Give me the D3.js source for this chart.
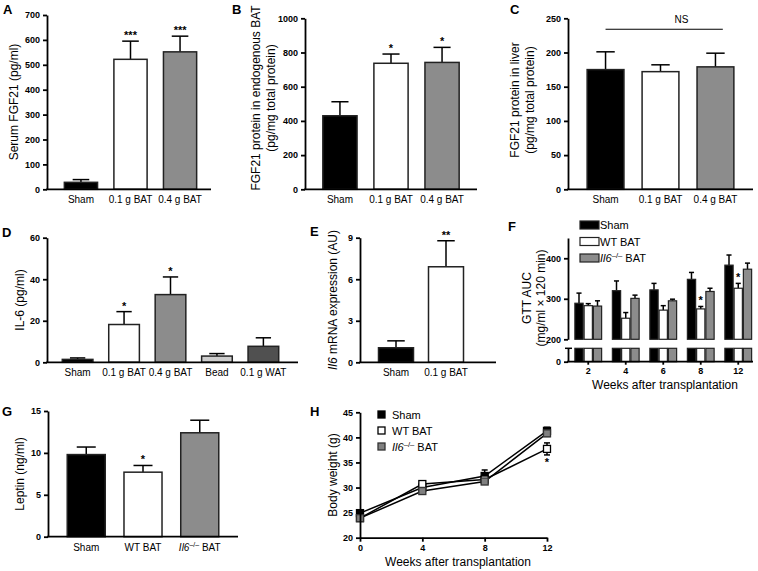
<!DOCTYPE html>
<html>
<head>
<meta charset="utf-8">
<script src="https://cdn.jsdelivr.net/npm/d3@7"></script>
<style>
body { margin: 0; background: #fff; }
svg { font-family: "Liberation Sans", Arial, sans-serif; }
.tick text { font-weight: bold; font-size: 9px; fill: #000; }
.domain, .tick line { stroke: #000; stroke-width: 1.8; }
.cat { font-size: 10px; }
.title { font-size: 12px; }
.letter { font-size: 13px; font-weight: bold; }
.star { font-size: 11px; font-weight: bold; }
.legend { font-size: 11px; }
</style>
</head>
<body>
<script>

// - data -

var aCats = ['Sham', '0.1 g BAT', '0.4 g BAT'];
var aVals = [28, 522, 552];
var aErrs = [11, 73, 63];
var aStars = ['', '***', '***'];

var bCats = ['Sham', '0.1 g BAT', '0.4 g BAT'];
var bVals = [430, 737, 742];
var bErrs = [82, 54, 88];
var bStars = ['', '*', '*'];

var cCats = ['Sham', '0.1 g BAT', '0.4 g BAT'];
var cVals = [175, 172, 179];
var cErrs = [26, 10, 20];

var dCats = ['Sham', '0.1 g BAT', '0.4 g BAT', 'Bead', '0.1 g WAT'];
var dVals = [1.4, 18.2, 32.6, 3.0, 7.7];
var dErrs = [0.7, 6.2, 8.5, 1.2, 4.1];
var dStars = ['', '*', '*', '', ''];

var eCats = ['Sham', '0.1 g BAT'];
var eVals = [1.05, 6.9];
var eErrs = [0.5, 1.88];
var eStars = ['', '**'];

var fWeeks = ['2', '4', '6', '8', '12'];
var fGroups = ['Sham', 'WT BAT', 'Il6-/- BAT'];
var fSham = [289, 320, 322, 348, 383];
var fShamErr = [25, 24, 16, 17, 25];
var fWt = [283, 252, 272, 275, 326];
var fWtErr = [5, 14, 11, 6, 12];
var fIl6 = [282, 301, 295, 318, 373];
var fIl6Err = [13, 8, 4, 8, 15];
var fWtStars = ['', '', '', '*', '*'];

var gCats = ['Sham', 'WT BAT', 'Il6-/- BAT'];
var gVals = [9.8, 7.7, 12.4];
var gErrs = [0.9, 0.8, 1.5];
var gStars = ['', '*', ''];

var hWeeks = [0, 4, 8, 12];
var hSham = [24.9, 30.0, 32.3, 41.3];
var hShamErr = [0.3, 0.4, 1.2, 0.7];
var hWt = [23.9, 30.7, 31.6, 37.7];
var hWtErr = [0.3, 0.4, 0.4, 1.2];
var hIl6 = [23.9, 29.3, 31.2, 40.8];
var hIl6Err = [0.3, 0.4, 0.3, 0.6];

var colBlack = '#000';
var colWhite = '#fff';
var colGrey = '#8c8c8c';
var colLight = '#cdcdcd';
var colDark = '#505050';

// - global -

var width = 758;
var height = 571;

var svg = d3.select('body').append('svg')
	.attr('width', width)
	.attr('height', height);

// - helpers -

// label text, with italic Il6 and superscript -/-
function writeLabel(sel, label) {
	if (label.indexOf('Il6') === 0) {
		sel.append('tspan').style('font-style', 'italic').text('Il6');
		sel.append('tspan').attr('dy', -4).style('font-size', '0.7em').text('\u2013/\u2013');
		sel.append('tspan').attr('dy', 4).text(label.replace('Il6-/-', ''));
	} else {
		sel.text(label);
	}
}

function letter(t, x, y) {
	svg.append('text').attr('class', 'letter').attr('x', x).attr('y', y).text(t);
}

function yTitle(lines, x, yc, lineGap) {
	var t = svg.append('text')
		.attr('class', 'title')
		.attr('text-anchor', 'middle')
		.attr('transform', 'translate(' + x + ',' + yc + ') rotate(-90)');
	lines.forEach(function(l, i) {
		var ts = t.append('tspan').attr('x', 0).attr('y', i * lineGap);
		if (l.indexOf('Il6') === 0) {
			ts.append('tspan').style('font-style', 'italic').text('Il6');
			ts.append('tspan').text(l.replace('Il6', ''));
		} else {
			ts.text(l);
		}
	});
}

function errBar(g, cx, y0, y1, capW) {
	g.append('line').attr('x1', cx).attr('x2', cx).attr('y1', y0).attr('y2', y1)
		.attr('stroke', '#000').attr('stroke-width', 1.5);
	g.append('line').attr('x1', cx - capW / 2).attr('x2', cx + capW / 2).attr('y1', y1).attr('y2', y1)
		.attr('stroke', '#000').attr('stroke-width', 1.5);
}

// - bar panel -

function barPanel(p) {
	var g = svg.append('g');
	var x = d3.scaleBand().domain(p.cats).range(p.xRange).padding(p.pad);
	var y = d3.scaleLinear().domain(p.yDomain).range(p.yRange);
	var bw = x.bandwidth();

	p.cats.forEach(function(c, i) {
		var cx = x(c) + bw / 2;
		errBar(g, cx, y(p.vals[i]), y(p.vals[i] + p.errs[i]), bw * 0.5);
	});

	g.selectAll('rect.bar')
		.data(p.vals).enter()
		.append('rect')
			.attr('class', 'bar')
			.attr('x', function(d, i) { return x(p.cats[i]); })
			.attr('y', function(d) { return y(d); })
			.attr('width', bw)
			.attr('height', function(d) { return y(0) - y(d); })
			.attr('fill', function(d, i) { return p.fills[i]; })
			.attr('stroke', '#222')
			.attr('stroke-width', 1.5);

	if (p.stars) {
		g.selectAll('text.star')
			.data(p.stars).enter()
			.append('text')
				.attr('class', 'star')
				.attr('text-anchor', 'middle')
				.attr('x', function(d, i) { return x(p.cats[i]) + bw / 2; })
				.attr('y', function(d, i) { return y(p.vals[i] + p.errs[i]) - 2; })
				.text(function(d) { return d; });
	}

	g.append('g')
		.attr('transform', 'translate(' + p.axisX + ',0)')
		.call(d3.axisLeft(y).tickValues(p.ticks).tickSize(4).tickSizeOuter(0).tickFormat(d3.format('d')));

	g.append('line')
		.attr('x1', p.axisX - 0.9).attr('x2', p.axisEnd)
		.attr('y1', y(0)).attr('y2', y(0))
		.attr('stroke', '#000').attr('stroke-width', 1.8);

	p.cats.forEach(function(c) {
		var t = g.append('text')
			.attr('class', 'cat')
			.attr('text-anchor', 'middle')
			.attr('x', x(c) + bw / 2)
			.attr('y', y(0) + 14);
		writeLabel(t, c);
	});

	return { x: x, y: y };
}

// - panels A to E, G -

letter('A', 3, 14);
barPanel({
	cats: aCats, vals: aVals, errs: aErrs, stars: aStars,
	fills: [colBlack, colWhite, colGrey],
	xRange: [48, 213], pad: 0.33, axisX: 47, axisEnd: 211,
	yDomain: [0, 700], yRange: [189.3, 15], ticks: d3.range(0, 701, 100)
});
yTitle(['Serum FGF21 (pg/ml)'], 18, 102, 0);

letter('B', 232, 14);
barPanel({
	cats: bCats, vals: bVals, errs: bErrs, stars: bStars,
	fills: [colBlack, colWhite, colGrey],
	xRange: [306, 476], pad: 0.33, axisX: 305, axisEnd: 477,
	yDomain: [0, 1000], yRange: [189.3, 18.3], ticks: d3.range(0, 1001, 200)
});
yTitle(['FGF21 protein in endogenous BAT', '(pg/mg total protein)'], 260, 98, 15);

letter('C', 510, 14);
var pc = barPanel({
	cats: cCats, vals: cVals, errs: cErrs,
	fills: [colBlack, colWhite, colGrey],
	xRange: [569, 752], pad: 0.33, axisX: 568, axisEnd: 753,
	yDomain: [0, 250], yRange: [189.3, 18.3], ticks: d3.range(0, 251, 50)
});
yTitle(['FGF21 protein in liver', '(pg/mg total protein)'], 519, 100, 15);

// NS bracket
svg.append('line')
	.attr('x1', pc.x(cCats[0]) + pc.x.bandwidth() / 2)
	.attr('x2', pc.x(cCats[2]) + pc.x.bandwidth() * 0.7)
	.attr('y1', pc.y(234)).attr('y2', pc.y(234))
	.attr('stroke', '#000').attr('stroke-width', 1.2);
svg.append('text')
	.attr('class', 'cat')
	.attr('text-anchor', 'middle')
	.attr('x', pc.x(cCats[1]) + pc.x.bandwidth() / 2 + 21)
	.attr('y', pc.y(234) - 6)
	.text('NS');

letter('D', 2, 237);
barPanel({
	cats: dCats, vals: dVals, errs: dErrs, stars: dStars,
	fills: [colBlack, colWhite, colGrey, colLight, colDark],
	xRange: [46.5, 294.5], pad: 0.34, axisX: 47, axisEnd: 298,
	yDomain: [0, 60], yRange: [362.3, 237.7], ticks: [0, 20, 40, 60]
});
yTitle(['IL-6 (pg/ml)'], 24, 300, 0);

letter('E', 310, 236);
barPanel({
	cats: eCats, vals: eVals, errs: eErrs, stars: eStars,
	fills: [colBlack, colWhite],
	xRange: [363.5, 478.5], pad: 0.3, axisX: 360, axisEnd: 496,
	yDomain: [0, 9], yRange: [362.3, 237.7], ticks: [0, 3, 6, 9]
});
yTitle(['Il6 mRNA expression (AU)'], 337, 300, 0);

letter('G', 2, 416);
barPanel({
	cats: gCats, vals: gVals, errs: gErrs, stars: gStars,
	fills: [colBlack, colWhite, colGrey],
	xRange: [48.5, 237.5], pad: 0.33, axisX: 48, axisEnd: 238,
	yDomain: [0, 15], yRange: [536.7, 411], ticks: [0, 5, 10, 15]
});
yTitle(['Leptin (ng/ml)'], 24, 474, 0);

// - panel F: grouped bars with broken axis -

letter('F', 508, 231);

function drawF() {
	var g = svg.append('g');
	var x0 = d3.scaleBand().domain(fWeeks).range([569.5, 757]).paddingInner(0.26).paddingOuter(0.13);
	var x1 = d3.scaleBand().domain(fGroups).range([0, x0.bandwidth()]);
	var yU = d3.scaleLinear().domain([200, 450]).range([339.3, 238]);
	var yL = d3.scaleLinear().domain([0, 30]).range([361.7, 348.3]);
	var bw = x1.bandwidth();

	var series = [
		{ key: fGroups[0], vals: fSham, errs: fShamErr, fill: colBlack },
		{ key: fGroups[1], vals: fWt, errs: fWtErr, fill: colWhite },
		{ key: fGroups[2], vals: fIl6, errs: fIl6Err, fill: colGrey }
	];

	series.forEach(function(s) {
		s.vals.forEach(function(v, i) {
			var bx = x0(fWeeks[i]) + x1(s.key);
			errBar(g, bx + bw / 2, yU(v), yU(v + s.errs[i]), bw * 0.55);
			g.append('rect')
				.attr('x', bx + 0.5).attr('y', yU(v))
				.attr('width', bw - 1).attr('height', yU(200) - yU(v))
				.attr('fill', s.fill).attr('stroke', '#222').attr('stroke-width', 1.2);
			g.append('rect')
				.attr('x', bx + 0.5).attr('y', yL(30))
				.attr('width', bw - 1).attr('height', yL(0) - yL(30))
				.attr('fill', s.fill).attr('stroke', '#222').attr('stroke-width', 1.2);
		});
	});

	fWtStars.forEach(function(st, i) {
		if (!st) return;
		g.append('text')
			.attr('class', 'star')
			.attr('text-anchor', 'middle')
			.attr('x', x0(fWeeks[i]) + x1(fGroups[1]) + bw / 2)
			.attr('y', yU(fWt[i] + fWtErr[i]) - 2)
			.text(st);
	});

	// upper axis segment
	g.append('g')
		.attr('transform', 'translate(568,0)')
		.call(d3.axisLeft(yU).tickValues([200, 300, 400]).tickSize(4).tickSizeOuter(0));

	// lower axis segment with break cap
	g.append('g')
		.attr('transform', 'translate(568,0)')
		.call(d3.axisLeft(yL).tickValues([0]).tickSize(4).tickSizeOuter(0));
	g.append('line')
		.attr('x1', 565).attr('x2', 572)
		.attr('y1', yL(30)).attr('y2', yL(30))
		.attr('stroke', '#000').attr('stroke-width', 1.5);

	// x axis
	g.append('g')
		.attr('transform', 'translate(0,' + yL(0) + ')')
		.call(d3.axisBottom(x0).tickSize(3).tickSizeOuter(0))
		.call(function(a) { a.select('.domain').attr('d', 'M567,0H753'); });

	g.append('text')
		.attr('class', 'title')
		.attr('text-anchor', 'middle')
		.attr('x', 665).attr('y', 389)
		.text('Weeks after transplantation');

	// legend
	series.forEach(function(s, i) {
		g.append('rect')
			.attr('x', 580).attr('y', 221 + i * 16.5)
			.attr('width', 19).attr('height', 8)
			.attr('fill', s.fill).attr('stroke', '#222').attr('stroke-width', 1.2);
		var t = g.append('text')
			.attr('class', 'legend')
			.attr('x', 600).attr('y', 229 + i * 16.5);
		writeLabel(t, s.key);
	});
}
drawF();
yTitle(['GTT AUC', '(mg/ml \u00d7 120 min)'], 531, 298, 14);

// - panel H: line chart -

letter('H', 310, 416);

function drawH() {
	var g = svg.append('g');
	var x = d3.scaleLinear().domain([0, 12]).range([360, 547]);
	var y = d3.scaleLinear().domain([20, 45]).range([537.7, 412.3]);

	var series = [
		{ key: 'Sham', vals: hSham, errs: hShamErr, fill: colBlack, stroke: '#000' },
		{ key: 'WT BAT', vals: hWt, errs: hWtErr, fill: colWhite, stroke: '#000' },
		{ key: 'Il6-/- BAT', vals: hIl6, errs: hIl6Err, fill: '#808080', stroke: '#333' }
	];

	var line = d3.line()
		.x(function(d, i) { return x(hWeeks[i]); })
		.y(function(d) { return y(d); });

	series.forEach(function(s) {
		g.append('path')
			.attr('d', line(s.vals))
			.attr('fill', 'none').attr('stroke', '#000').attr('stroke-width', 1.5);
	});

	series.forEach(function(s) {
		s.vals.forEach(function(v, i) {
			var cx = x(hWeeks[i]);
			errBar(g, cx, y(v - s.errs[i]), y(v + s.errs[i]), 6);
			g.append('line').attr('x1', cx - 3).attr('x2', cx + 3)
				.attr('y1', y(v - s.errs[i])).attr('y2', y(v - s.errs[i]))
				.attr('stroke', '#000').attr('stroke-width', 1.5);
			g.append('rect')
				.attr('x', cx - 3.5).attr('y', y(v) - 3.5)
				.attr('width', 7).attr('height', 7)
				.attr('fill', s.fill).attr('stroke', s.stroke).attr('stroke-width', 1.3);
		});
	});

	// significance mark under the WT BAT point at week 12
	g.append('text')
		.attr('class', 'star')
		.attr('text-anchor', 'middle')
		.attr('x', x(hWeeks[3]))
		.attr('y', y(hWt[3] - hWtErr[3]) + 11)
		.text('*');

	g.append('g')
		.attr('transform', 'translate(360,0)')
		.call(d3.axisLeft(y).tickValues([20, 25, 30, 35, 40, 45]).tickSize(4).tickSizeOuter(0));
	g.append('g')
		.attr('transform', 'translate(0,' + y(20) + ')')
		.call(d3.axisBottom(x).tickValues(hWeeks).tickSize(4).tickSizeOuter(0));

	g.append('text')
		.attr('class', 'title')
		.attr('text-anchor', 'middle')
		.attr('x', 458).attr('y', 566)
		.text('Weeks after transplantation');

	series.forEach(function(s, i) {
		g.append('rect')
			.attr('x', 378).attr('y', 411 + i * 16)
			.attr('width', 7).attr('height', 7)
			.attr('fill', s.fill).attr('stroke', s.stroke).attr('stroke-width', 1.3);
		var t = g.append('text')
			.attr('class', 'legend')
			.attr('x', 392).attr('y', 419 + i * 16);
		writeLabel(t, s.key);
	});
}
drawH();
yTitle(['Body weight (g)'], 337, 475, 0);

</script>
</body>
</html>
